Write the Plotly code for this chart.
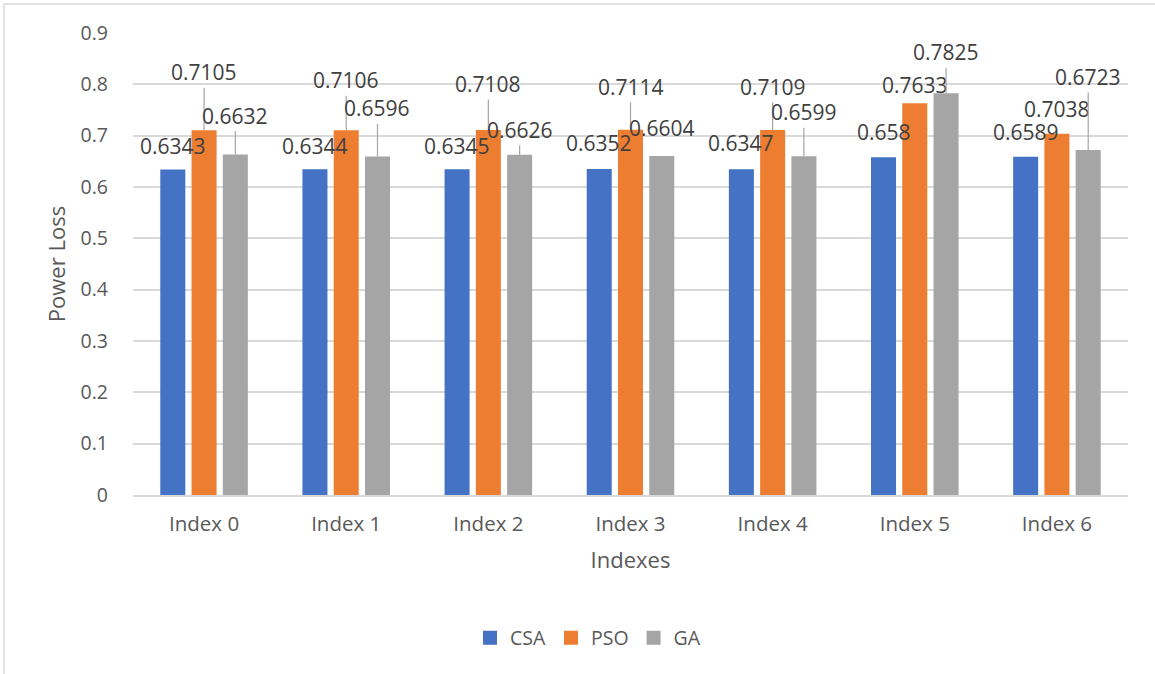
import plotly.graph_objects as go

# ---- data ----
categories = ["Index 0", "Index 1", "Index 2", "Index 3", "Index 4", "Index 5", "Index 6"]
csa = [0.6343, 0.6344, 0.6345, 0.6352, 0.6347, 0.658, 0.6589]
pso = [0.7105, 0.7106, 0.7108, 0.7114, 0.7109, 0.7633, 0.7038]
ga = [0.6632, 0.6596, 0.6626, 0.6604, 0.6599, 0.7825, 0.6723]
y_ticks = [0, 0.1, 0.2, 0.3, 0.4, 0.5, 0.6, 0.7, 0.8, 0.9]

series = [("CSA", csa, "#4472C4"), ("PSO", pso, "#ED7D31"), ("GA", ga, "#A5A5A5")]

# ---- data-label placement (pixels the label centre sits above the bar top, leader line flag) ----
label_layout = {
    "CSA": [(23, False), (23, False), (23, False), (26, False), (26, False), (25, False), (25, False)],
    "PSO": [(58, True), (50, True), (46, True), (43, True), (43, True), (18, False), (25, False)],
    "GA": [(39, True), (48, True), (25, True), (28, False), (44, True), (41, True), (73, True)],
}

W, H = 1155, 674
M_L, M_R, M_T, M_B = 133, 27, 33, 179
plot_w = W - M_L - M_R
plot_h = H - M_T - M_B

FONT = "Open Sans"
TXT = "#595959"
LBL = "#404040"

fig = go.Figure()
for name, vals, color in series:
    fig.add_trace(go.Bar(x=categories, y=vals, name=name, showlegend=False,
                         marker=dict(color=color, line=dict(width=0))))
# legend keys: filled squares
for name, _, color in series:
    fig.add_trace(go.Scatter(x=[None], y=[None], mode="markers", name=name,
                             marker=dict(symbol="square", size=12, color=color,
                                         line=dict(width=2, color=color))))

BARGAP, GROUPGAP = 0.34, 0.2
slot_px = plot_w / len(categories) * (1 - BARGAP) / len(series)

annotations = []
for i, (name, vals, _) in enumerate(series):
    xs = (i - (len(series) - 1) / 2) * slot_px
    for cat, v, (off, leader) in zip(categories, vals, label_layout[name]):
        a = dict(x=cat, y=v, xref="x", yref="y", text=str(v), xshift=xs,
                 font=dict(family=FONT, size=21, color=LBL))
        if leader:
            a.update(showarrow=True, ax=0, ay=-off, arrowhead=0, arrowwidth=1.2,
                     arrowcolor="#A6A6A6", standoff=0, borderpad=1)
        else:
            a.update(showarrow=False, yshift=off, yanchor="middle", xanchor="center")
        annotations.append(a)


def px_x(p):
    return (p - M_L) / plot_w


def px_y(p):
    return (H - M_B - p) / plot_h


# chart frame (left and top edges)
shapes = [
    dict(type="line", xref="paper", yref="paper", x0=px_x(4), x1=px_x(4), y0=px_y(4), y1=px_y(H),
         line=dict(color="#D9D9D9", width=1.5)),
    dict(type="line", xref="paper", yref="paper", x0=px_x(4), x1=px_x(W), y0=px_y(4), y1=px_y(4),
         line=dict(color="#D9D9D9", width=1.5)),
]

fig.update_layout(
    width=W, height=H,
    margin=dict(l=M_L, r=M_R, t=M_T, b=M_B, autoexpand=False),
    paper_bgcolor="white", plot_bgcolor="white",
    barmode="group", bargap=BARGAP, bargroupgap=GROUPGAP,
    font=dict(family=FONT, color=TXT),
    annotations=annotations,
    shapes=shapes,
    legend=dict(orientation="h", x=px_x(588), y=px_y(638), xanchor="center", yanchor="middle",
                font=dict(family=FONT, size=19.5, color=TXT), itemwidth=30, itemsizing="trace",
                bgcolor="rgba(0,0,0,0)", tracegroupgap=0),
    xaxis=dict(
        title=dict(text="Indexes", font=dict(family=FONT, size=22, color=TXT), standoff=16),
        tickfont=dict(family=FONT, size=20.5, color=TXT),
        showline=True, linecolor="#D9D9D9", linewidth=1.5,
        showgrid=False, ticks="", ticklabelstandoff=10, automargin=False,
    ),
    yaxis=dict(
        title=dict(text="Power Loss", font=dict(family=FONT, size=22, color=TXT), standoff=8),
        range=[0, 0.9], tickvals=y_ticks, ticktext=[f"{t:g}" for t in y_ticks],
        tickfont=dict(family=FONT, size=19.5, color=TXT),
        showgrid=True, gridcolor="#D9D9D9", gridwidth=1.5,
        zeroline=False, showline=False, ticks="", ticklabelstandoff=24, automargin=False,
    ),
)

fig.write_html("out.html")
